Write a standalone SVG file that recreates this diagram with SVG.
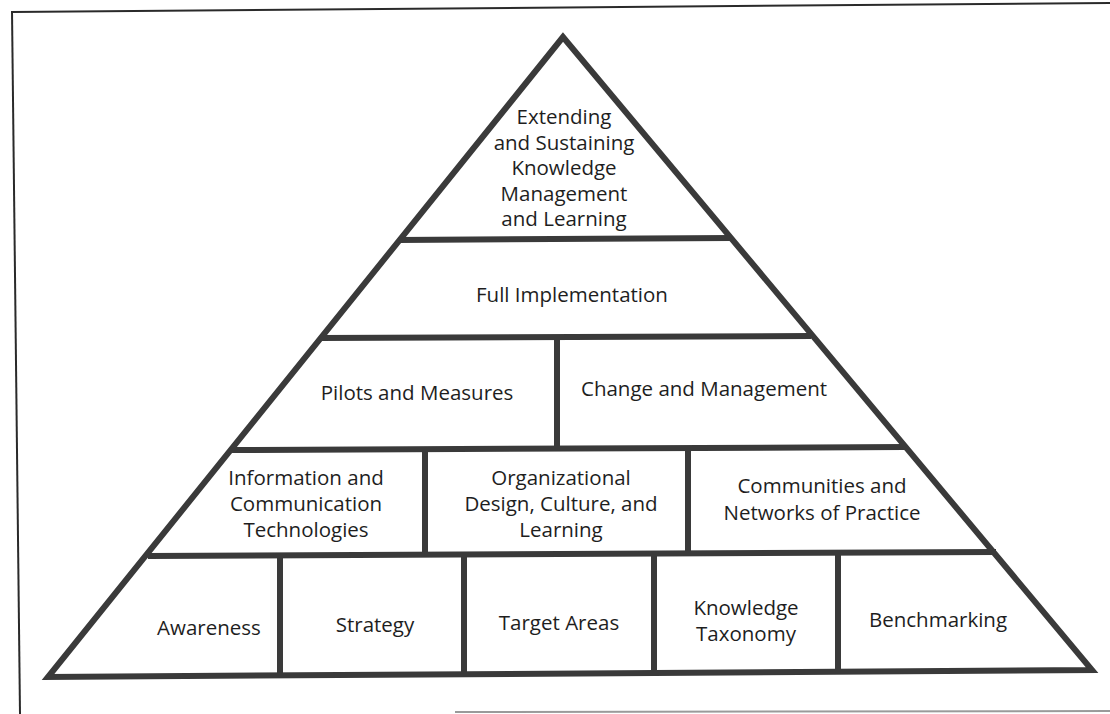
<svg xmlns="http://www.w3.org/2000/svg" width="1110" height="714" viewBox="0 0 1110 714">
<style>
.frame{stroke:#2a2a2a;stroke-width:2;fill:none}
.frame2{stroke:#9a9a9a;stroke-width:2;fill:none}
.ln{stroke:#3a3a3a;stroke-width:6;fill:none;stroke-linecap:butt}
.outline{stroke:#3a3a3a;stroke-width:6;fill:#fff;stroke-linejoin:miter;stroke-miterlimit:10}
text{font-family:"Open Sans","Noto Sans","Liberation Sans",sans-serif;font-size:20.5px;fill:#1e1e1e;text-anchor:middle}
</style>
<rect width="1110" height="714" fill="#fff"/>
<g id="frame">
<line class="frame" x1="12" y1="12" x2="1110" y2="3"/>
<line class="frame" x1="12" y1="11" x2="20" y2="714"/>
<line class="frame2" x1="455" y1="712" x2="1110" y2="711"/>
</g>
<g id="connectors">
<polygon class="outline" points="563,37 48,677 1092,670"/>
<line class="ln" x1="398" y1="240" x2="731" y2="238"/>
<line class="ln" x1="320" y1="338" x2="811" y2="336"/>
<line class="ln" x1="231" y1="450" x2="905" y2="447"/>
<line class="ln" x1="148" y1="556" x2="996" y2="552"/>
<line class="ln" x1="557" y1="337" x2="557" y2="449"/>
<line class="ln" x1="425" y1="449" x2="425" y2="555"/>
<line class="ln" x1="688" y1="448" x2="688" y2="554"/>
<line class="ln" x1="280" y1="555" x2="280" y2="676"/>
<line class="ln" x1="464" y1="555" x2="464" y2="675"/>
<line class="ln" x1="654" y1="554" x2="654" y2="673"/>
<line class="ln" x1="838" y1="553" x2="838" y2="672"/>
</g>
<g id="n-top"><text x="564" y="124">Extending</text><text x="564" y="149.5">and Sustaining</text><text x="564" y="175">Knowledge</text><text x="564" y="200.5">Management</text><text x="564" y="226">and Learning</text></g>
<g id="n-full"><text x="572" y="302">Full Implementation</text></g>
<g id="n-pilots"><text x="417" y="400">Pilots and Measures</text></g>
<g id="n-change"><text x="704" y="396">Change and Management</text></g>
<g id="n-ict"><text x="306" y="485">Information and</text><text x="306" y="511">Communication</text><text x="306" y="537">Technologies</text></g>
<g id="n-org"><text x="561" y="485">Organizational</text><text x="561" y="511">Design, Culture, and</text><text x="561" y="537">Learning</text></g>
<g id="n-comm"><text x="822" y="493">Communities and</text><text x="822" y="520">Networks of Practice</text></g>
<g id="n-aware"><text x="209" y="635">Awareness</text></g>
<g id="n-strat"><text x="375" y="632">Strategy</text></g>
<g id="n-target"><text x="559" y="630">Target Areas</text></g>
<g id="n-tax"><text x="746" y="615">Knowledge</text><text x="746" y="641">Taxonomy</text></g>
<g id="n-bench"><text x="938" y="627">Benchmarking</text></g>
</svg>
